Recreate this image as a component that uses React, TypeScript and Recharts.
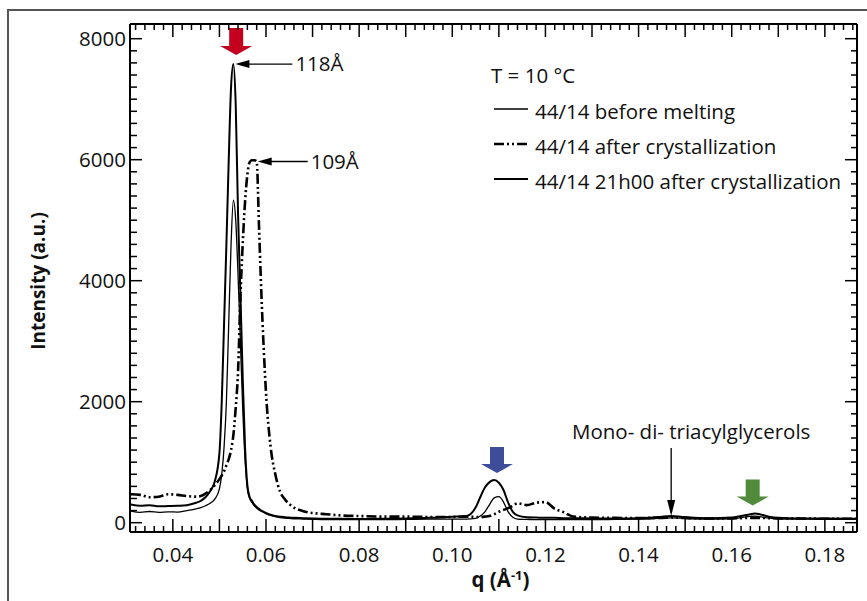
import React from "react";
import { LineChart, Line, XAxis, YAxis, ReferenceDot, Legend } from "recharts";

// scattering vector q (Å-1)
const q = [
  0.031, 0.033, 0.035, 0.037, 0.039, 0.041, 0.043, 0.045, 0.046, 0.047,
  0.048, 0.049, 0.05, 0.0505, 0.051, 0.0515, 0.052, 0.0525, 0.053, 0.0535,
  0.054, 0.0545, 0.055, 0.0555, 0.056, 0.0565, 0.057, 0.0575, 0.058, 0.0585,
  0.059, 0.0595, 0.06, 0.061, 0.062, 0.063, 0.064, 0.065, 0.066, 0.068,
  0.07, 0.073, 0.076, 0.08, 0.085, 0.09, 0.095, 0.1, 0.103, 0.105,
  0.106, 0.107, 0.108, 0.109, 0.11, 0.111, 0.112, 0.113, 0.114, 0.116,
  0.118, 0.12, 0.122, 0.124, 0.126, 0.13, 0.135, 0.14, 0.143, 0.145,
  0.147, 0.149, 0.151, 0.155, 0.16, 0.162, 0.164, 0.165, 0.166, 0.168,
  0.17, 0.175, 0.18, 0.1869,
];

const beforeMelting = [
  190, 170, 185, 170, 180, 175, 200, 230, 250, 280,
  320, 390, 560, 800, 1250, 2000, 3300, 4600, 5330, 5000,
  4100, 3000, 1900, 1050, 560, 400, 330, 280, 240, 210,
  190, 170, 150, 120, 100, 85, 75, 70, 65, 60,
  55, 50, 50, 50, 50, 55, 60, 60, 60, 70,
  110, 180, 300, 410, 430, 340, 180, 90, 60, 55,
  50, 50, 50, 50, 50, 50, 55, 60, 65, 75,
  80, 75, 65, 60, 65, 85, 105, 110, 100, 75,
  65, 60, 55, 55,
];

const afterCrystallization = [
  470, 460, 420, 430, 470, 460, 440, 430, 440, 480,
  540, 620, 720, 780, 850, 950, 1050, 1200, 1450, 1900,
  2500, 3700, 4600, 5300, 5750, 5960, 5990, 5990, 5970, 4900,
  3800, 2900, 2150, 1250, 800, 520, 390, 310, 250, 190,
  160, 140, 120, 110, 100, 100, 95, 95, 100, 95,
  95, 100, 110, 140, 180, 210, 240, 280, 320, 290,
  330, 340, 230, 170, 100, 85, 80, 75, 80, 80,
  85, 80, 75, 70, 70, 75, 80, 80, 80, 75,
  70, 70, 65, 65,
];

const after21h = [
  300, 280, 290, 270, 275, 280, 290, 330, 360, 420,
  520, 680, 1150, 2000, 3300, 4600, 6000, 7200, 7580, 6900,
  5100, 3800, 2400, 1250, 620, 420, 360, 300, 260, 230,
  200, 180, 160, 130, 110, 100, 90, 85, 80, 75,
  70, 65, 65, 60, 65, 70, 80, 100, 110, 250,
  420, 580, 670, 705, 660, 540, 330, 180, 120, 90,
  85, 80, 80, 75, 75, 70, 70, 75, 85, 100,
  110, 100, 85, 75, 85, 110, 140, 150, 140, 100,
  80, 70, 70, 65,
];

const xLabels = [0.04, 0.06, 0.08, 0.1, 0.12, 0.14, 0.16, 0.18];
const yLabels = [0, 2000, 4000, 6000, 8000];

const data = q.map((v, i) => ({
  q: v,
  before: beforeMelting[i],
  after: afterCrystallization[i],
  h21: after21h[i],
}));

// minor ticks every 0.002 and every 200
const xTicks: number[] = [];
for (let k = 16; k <= 93; k++) xTicks.push(+(k * 0.002).toFixed(3));
const yTicks: number[] = [];
for (let v = 0; v <= 8000; v += 200) yTicks.push(v);

const X_DOMAIN = [0.0308, 0.1869];
const Y_DOMAIN = [-154, 8243];
const FONT = "'Open Sans', sans-serif";
const FS = 20.5;

const isXLabel = (v: number) => xLabels.some((l) => Math.abs(l - v) < 1e-6);
const isXMajor = (v: number) => Math.round(v * 1000) % 10 === 0;

const BottomTick = ({ x, y, payload }: any) => {
  const v = payload.value;
  const len = isXMajor(v) ? 13 : 6;
  return (
    <g>
      <line x1={x} y1={y} x2={x} y2={y - len} stroke="#000" strokeWidth={1.5} />
      {isXLabel(v) && (
        <text x={x} y={y + 30} textAnchor="middle" fontFamily={FONT} fontSize={FS} fill="#111">
          {v.toFixed(2)}
        </text>
      )}
    </g>
  );
};

const TopTick = ({ x, y, payload }: any) => {
  const len = isXMajor(payload.value) ? 13 : 6;
  return <line x1={x} y1={y} x2={x} y2={y + len} stroke="#000" strokeWidth={1.5} />;
};

const LeftTick = ({ x, y, payload }: any) => {
  const v = payload.value;
  const major = yLabels.includes(v);
  return (
    <g>
      <line x1={x} y1={y} x2={x + (major ? 12 : 7)} y2={y} stroke="#000" strokeWidth={1.5} />
      {major && (
        <text x={x - 4} y={y} dy="0.36em" textAnchor="end" fontFamily={FONT} fontSize={FS} fill="#111">
          {v}
        </text>
      )}
    </g>
  );
};

const RightTick = ({ x, y, payload }: any) => {
  const major = yLabels.includes(payload.value);
  return <line x1={x} y1={y} x2={x - (major ? 12 : 6)} y2={y} stroke="#000" strokeWidth={1.5} />;
};

const blockArrow = (color: string, gap: number, h: number) => (props: any) => {
  const { cx, cy } = props;
  const t = cy - gap;
  const d = `M${cx - 7},${t - h} L${cx + 7},${t - h} L${cx + 7},${t - 9} L${cx + 16},${t - 9} L${cx},${t} L${cx - 16},${t - 9} L${cx - 7},${t - 9} Z`;
  return <path d={d} fill={color} />;
};

const peakLabel = (label: string, dx: number, len: number) => (props: any) => {
  const { cx, cy } = props;
  const tx = cx + dx;
  return (
    <g>
      <path d={`M${tx},${cy} L${tx + 14},${cy - 4} L${tx + 14},${cy + 4} Z`} fill="#000" />
      <line x1={tx + 12} y1={cy} x2={tx + len} y2={cy} stroke="#000" strokeWidth={1.3} />
      <text x={tx + len + 3} y={cy} dy="0.36em" fontFamily={FONT} fontSize={FS} fill="#111">
        {label}
      </text>
    </g>
  );
};

const monoLabel = (props: any) => {
  const { cx, cy } = props;
  return (
    <g>
      <line x1={cx} y1={cy - 68} x2={cx} y2={cy - 12} stroke="#000" strokeWidth={1.3} />
      <path d={`M${cx},${cy} L${cx - 4},${cy - 16} L${cx + 4},${cy - 16} Z`} fill="#000" />
      <text x={cx + 20} y={cy - 84} dy="0.36em" textAnchor="middle" fontFamily={FONT} fontSize={FS} fill="#111">
        Mono- di- triacylglycerols
      </text>
    </g>
  );
};

const SERIES = [
  { key: "before", name: "44/14 before melting", width: 1.3, dash: undefined as string | undefined },
  { key: "after", name: "44/14 after crystallization", width: 2.6, dash: "10 3 2 3 2 3" },
  { key: "h21", name: "44/14 21h00 after crystallization", width: 2, dash: undefined as string | undefined },
];

const renderLegend = () => (
  <div style={{ fontFamily: FONT, fontSize: FS, color: "#111", whiteSpace: "nowrap" }}>
    <div style={{ height: 35, lineHeight: "35px" }}>T = 10 °C</div>
    {SERIES.map((s) => (
      <div key={s.key} style={{ height: 35, display: "flex", alignItems: "center" }}>
        <svg width={40} height={10} style={{ marginRight: 4 }}>
          <line x1={3} y1={3} x2={37} y2={3} stroke="#000" strokeWidth={s.width} strokeDasharray={s.dash} />
        </svg>
        <span>{s.name}</span>
      </div>
    ))}
  </div>
);

export default function App() {
  return (
    <div style={{ position: "absolute", left: 0, top: 0, width: 867, height: 601, background: "#fff", overflow: "hidden" }}>
      <div
        style={{
          position: "absolute",
          left: 7,
          top: 9,
          width: 900,
          height: 700,
          borderLeft: "2px solid #555",
          borderTop: "2px solid #555",
        }}
      />
      <LineChart width={867} height={601} data={data} margin={{ top: 14, right: 0, bottom: 0, left: 0 }}>
        <XAxis
          dataKey="q"
          type="number"
          domain={X_DOMAIN}
          allowDataOverflow
          ticks={xTicks}
          interval={0}
          tickSize={0}
          tickMargin={0}
          tickLine={false}
          tick={<BottomTick />}
          height={69}
          axisLine={{ stroke: "#000", strokeWidth: 2 }}
          label={{
            content: (p: any) => {
              const vb = p.viewBox;
              return (
                <text x={vb.x + vb.width / 2 + 7} y={vb.y + 55} textAnchor="middle" fontFamily={FONT} fontSize={FS} fontWeight="bold" fill="#111">
                  <tspan>q (Å</tspan>
                  <tspan dy={-7} fontSize={13}>-1</tspan>
                  <tspan dy={7}>)</tspan>
                </text>
              );
            },
          }}
        />
        <XAxis
          xAxisId="top"
          dataKey="q"
          type="number"
          orientation="top"
          domain={X_DOMAIN}
          allowDataOverflow
          ticks={xTicks}
          interval={0}
          tickSize={0}
          tickMargin={0}
          tickLine={false}
          tick={<TopTick />}
          height={10}
          axisLine={{ stroke: "#000", strokeWidth: 2 }}
        />
        <YAxis
          type="number"
          domain={Y_DOMAIN}
          allowDataOverflow
          ticks={yTicks}
          interval={0}
          tickSize={0}
          tickMargin={0}
          tickLine={false}
          tick={<LeftTick />}
          width={130}
          axisLine={{ stroke: "#000", strokeWidth: 2 }}
          label={{
            content: (p: any) => {
              const vb = p.viewBox;
              const cy = vb.y + vb.height / 2 + 3;
              return (
                <text x={38} y={cy} transform={`rotate(-90 38 ${cy})`} textAnchor="middle" dy="0.36em" fontFamily={FONT} fontSize={19} fontWeight="bold" fill="#111">
                  Intensity (a.u.)
                </text>
              );
            },
          }}
        />
        <YAxis
          yAxisId="right"
          orientation="right"
          type="number"
          domain={Y_DOMAIN}
          allowDataOverflow
          ticks={yTicks}
          interval={0}
          tickSize={0}
          tickMargin={0}
          tickLine={false}
          tick={<RightTick />}
          width={10}
          axisLine={{ stroke: "#000", strokeWidth: 2 }}
        />
        <Legend
          layout="horizontal"
          verticalAlign="middle"
          align="center"
          content={renderLegend}
          wrapperStyle={{ position: "absolute", left: 491, top: 58, width: 360 }}
        />
        {SERIES.map((s) => (
          <Line
            key={s.key}
            dataKey={s.key}
            name={s.name}
            type="monotone"
            stroke="#000"
            strokeWidth={s.width}
            strokeDasharray={s.dash}
            dot={false}
            activeDot={false}
            isAnimationActive={false}
          />
        ))}
        <ReferenceDot x={0.0536} y={7580} r={0} ifOverflow="visible" shape={blockArrow("#c4001f", 9, 27)} />
        <ReferenceDot x={0.1096} y={705} r={0} ifOverflow="visible" shape={blockArrow("#3d4d9a", 7, 26)} />
        <ReferenceDot x={0.1645} y={150} r={0} ifOverflow="visible" shape={blockArrow("#4f8b3b", 8, 26)} />
        <ReferenceDot x={0.053} y={7580} r={0} ifOverflow="visible" shape={peakLabel("118Å", 2, 57)} />
        <ReferenceDot x={0.058} y={5970} r={0} ifOverflow="visible" shape={peakLabel("109Å", 1, 50)} />
        <ReferenceDot x={0.147} y={110} r={0} ifOverflow="visible" shape={monoLabel} />
      </LineChart>
    </div>
  );
}
